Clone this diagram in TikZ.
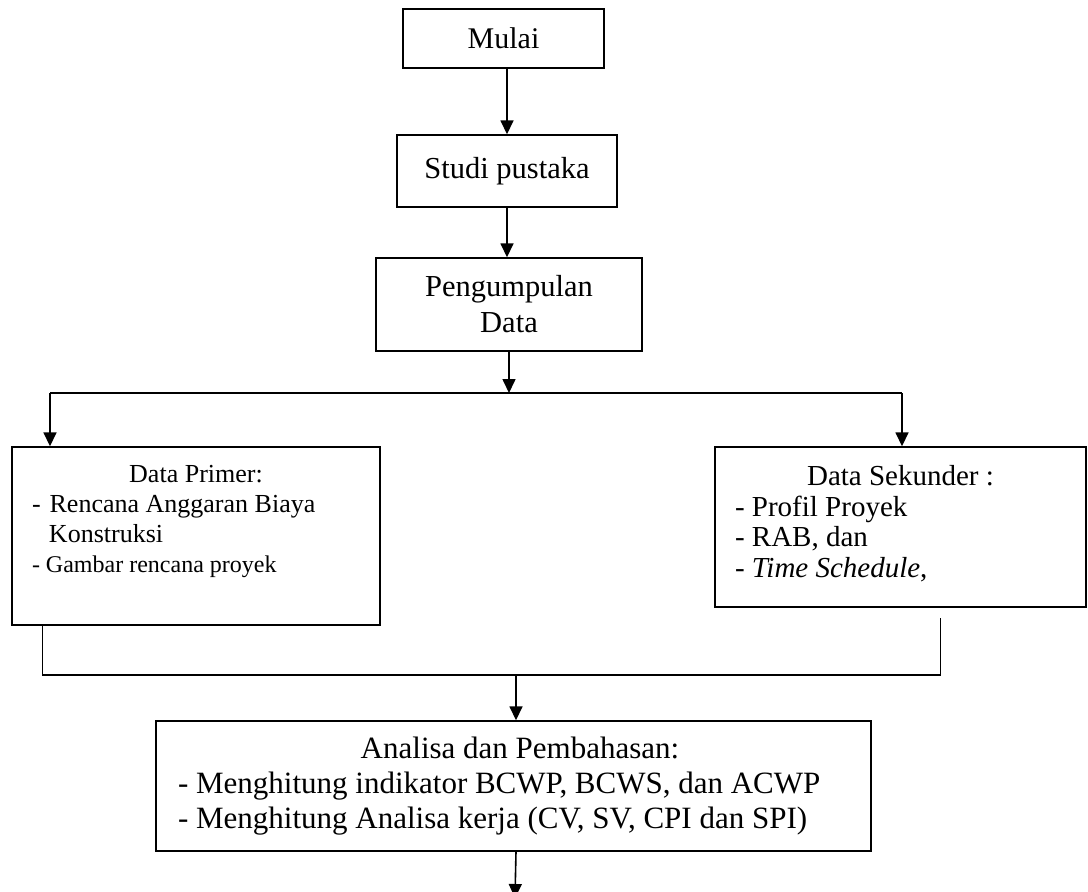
\documentclass[tikz,border=0pt]{standalone}
\usepackage{fontspec}
\setmainfont{Liberation Serif}
\usetikzlibrary{arrows.meta}
\begin{document}
\begin{tikzpicture}[x=1pt,y=-1pt,
        kotak/.style={draw,line width=1.4pt,inner sep=0pt,align=flush center},
        panah/.style={line width=1.6pt,-{Triangle[length=14pt,width=13pt]}},
        garis/.style={line width=1.6pt}]
        \useasboundingbox (0,0) rectangle (1088,892);

        \node[kotak,minimum width=201pt,minimum height=59pt,font=\fontsize{30}{36}\selectfont] (mulai) at (503.5,38.5) {Mulai};
        \node[kotak,minimum width=220pt,minimum height=72pt,font=\fontsize{30.5}{36}\selectfont] (studi) at (507,171) {Studi pustaka};
        \node[kotak,minimum width=266pt,minimum height=93pt,font=\fontsize{30.5}{36}\selectfont] (kumpul) at (509,304.5) {Pengumpulan\\Data};

        \node[kotak,minimum width=368pt,minimum height=178pt,text width=328pt,align=flush left,font=\fontsize{26}{30}\selectfont] (primer) at (196,536) {%
            \makebox[\linewidth]{Data Primer:}\\
            -\hspace{9pt}Rencana Anggaran Biaya\\
            \hspace*{17pt}Konstruksi\\
            {\fontsize{24}{30}\selectfont - Gambar rencana proyek}\rule[-35pt]{0pt}{35pt}};
        \node[kotak,minimum width=371pt,minimum height=160pt,text width=331pt,align=flush left,font=\fontsize{29}{30.5}\selectfont] (sekunder) at (900.5,527) {%
            \makebox[\linewidth]{Data Sekunder :}\\
            - Profil Proyek\\
            - RAB, dan\\
            - \textit{Time Schedule},\rule[-11pt]{0pt}{11pt}};

        \node[kotak,minimum width=715pt,minimum height=130pt,text width=671pt,align=flush left,font=\fontsize{31}{35}\selectfont] (analisa) at (513.5,786) {%
            \makebox[\linewidth]{\hspace*{13pt}Analisa dan Pembahasan:}\\
            - Menghitung indikator BCWP, BCWS, dan ACWP\\
            - Menghitung Analisa kerja (CV, SV, CPI dan SPI)};

        \coordinate (cabang) at (510,393);
        \coordinate (kiri) at (50,393);
        \coordinate (kanan) at (902,393);
        \coordinate (gabung) at (516,675);
        \coordinate (akhir) at (515,898);

        \draw[panah] (mulai.south -| studi) -- (studi.north);
        \draw[panah] (studi.south) -- (kumpul.north -| studi.south);
        \draw[panah] (kumpul.south) -- (kumpul.south |- cabang);

        \draw[garis] (kiri) -- (kanan);
        \draw[panah] (kiri) -- (kiri |- primer.north);
        \draw[panah] (kanan) -- (kanan |- sekunder.north);

        \draw[garis] ([xshift=31pt]primer.south west) |- (gabung) -| ([shift={(226,10)}]sekunder.south west);
        \draw[panah] (gabung) -- (gabung |- analisa.north);
        \draw[panah] (analisa.south -| gabung) -- (akhir);
    \end{tikzpicture}
\end{document}
